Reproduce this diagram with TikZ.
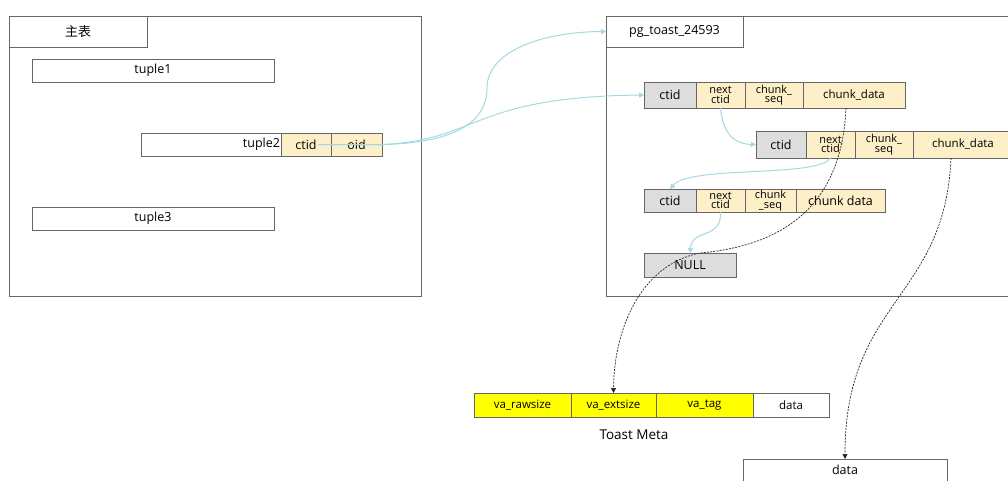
\documentclass[tikz,border=0pt]{standalone}
\usepackage{fontspec}
\setmainfont{Open Sans}
\newfontfamily\cjk{Noto Sans CJK SC}
\usetikzlibrary{arrows.meta}
\definecolor{edgegray}{HTML}{666666}
\definecolor{cellgray}{HTML}{DDDDDD}
\definecolor{cellbeige}{HTML}{FDEFC8}
\definecolor{metayellow}{HTML}{FFFF00}
\definecolor{linkcyan}{HTML}{A3D9E0}

\begin{document}
\begin{tikzpicture}[x=1pt,y=-1pt,font=\fontsize{12.5}{14}\selectfont,
	box/.style={draw=edgegray,line width=0.9pt,inner sep=0pt,outer sep=0pt,anchor=north west},
	idcell/.style={box,fill=cellgray},
	cell/.style={box,fill=cellbeige},
	meta/.style={box,fill=metayellow,minimum height=24,font=\fontsize{11.5}{13}\selectfont},
	twoline/.style={font=\fontsize{11}{9.5}\selectfont,align=center},
	link/.style={linkcyan,line width=1pt,-{Triangle[width=5pt,length=5pt]}},
	ptr/.style={black!85,line width=0.7pt,dash pattern=on 2pt off 1.2pt,-{Triangle[width=5pt,length=5pt]}}]
	\useasboundingbox (0,0) rectangle (1008,480);
	\clip (0,0) rectangle (1008,480);
	\node[box,minimum width=412,minimum height=280] (mainTbl) at (9,16) {};
	\node[box,minimum width=138,minimum height=31,font=\cjk\fontsize{13}{15}\selectfont] (mainTab) at (9,16) {主表};
	\node[box,minimum width=242,minimum height=23] (t1) at (32,59) {tuple1};
	\node[box,minimum width=140,minimum height=23,text width=138,align=right] (t2) at (141,133) {tuple2};
	\node[cell,minimum width=50,minimum height=23] (t2c) at (t2.north east) {ctid};
	\node[cell,minimum width=51,minimum height=23] (t2o) at (t2c.north east) {oid};
	\node[box,minimum width=242,minimum height=23] (t3) at (32,207) {tuple3};
	\node[box,minimum width=430,minimum height=280] (toastTbl) at (606,16) {};
	\node[box,minimum width=137,minimum height=31] (toastTab) at (606,16) {pg\_toast\_24593};
	\node[idcell,minimum width=52,minimum height=26] (r1c) at (644,82) {ctid};
	\node[cell,twoline,minimum width=49,minimum height=26] (r1n) at (r1c.north east) {next\\ctid};
	\node[cell,twoline,minimum width=58,minimum height=26] (r1s) at (r1n.north east) {chunk\_\\seq};
	\node[cell,minimum width=102,minimum height=26,font=\fontsize{11.5}{13}\selectfont] (r1d) at (r1s.north east) {chunk\_data};
	\node[idcell,minimum width=50,minimum height=27] (r2c) at (756,131) {ctid};
	\node[cell,twoline,minimum width=49,minimum height=27] (r2n) at (r2c.north east) {next\\ctid};
	\node[cell,twoline,minimum width=58,minimum height=27] (r2s) at (r2n.north east) {chunk\_\\seq};
	\node[cell,minimum width=100,minimum height=27,font=\fontsize{11.5}{13}\selectfont] (r2d) at (r2s.north east) {chunk\_data};
	\node[idcell,minimum width=52,minimum height=23] (r3c) at (644,189) {ctid};
	\node[cell,twoline,minimum width=49,minimum height=23] (r3n) at (r3c.north east) {next\\ctid};
	\node[cell,twoline,minimum width=51,minimum height=23] (r3s) at (r3n.north east) {chunk\\\_seq};
	\node[cell,minimum width=89,minimum height=23] (r3d) at (r3s.north east) {chunk data};
	\node[idcell,minimum width=92,minimum height=24] (null) at (644,253) {NULL};
	\node[meta,minimum width=97] (m1) at (474,393) {va\_rawsize};
	\node[meta,minimum width=85] (m2) at (m1.north east) {va\_extsize};
	\node[meta,minimum width=97] (m3) at (m2.north east) {va\_tag};
	\node[meta,fill=white,minimum width=76] (m4) at (m3.north east) {data};
	\node[font=\fontsize{13.5}{15}\selectfont] (metaLbl) at (634,435) {Toast Meta};
	\node[box,minimum width=204,minimum height=22] (outData) at (743,459) {data};
	\draw[link] ([xshift=12pt]t2c.center) -- (t2o.east) .. controls (455,143) and (487,122) .. (487,88) .. controls (487,52) and (540,32) .. (toastTab.west);
	\draw[link] ([xshift=12pt]t2c.center) -- (t2o.east) .. controls (480,140) and (470,97) .. (r1c.west);
	\draw[link] (r1n.south) .. controls (723,135) and (735,144) .. (r2c.west);
	\draw[link] (r2n.south) .. controls (818,178) and (690,165) .. (r3c.north);
	\draw[link] (r3n.south) .. controls (722,240) and (692,228) .. (null.north);
	\draw[ptr] ([xshift=-8pt]r1d.south) .. controls (842,200) and (790,245) .. (700,253) .. controls (640,265) and (614,330) .. (m2.north);
	\draw[ptr] ([xshift=-12pt]r2d.south) .. controls (945,300) and (845,300) .. (outData.north);
\end{tikzpicture}
\end{document}
